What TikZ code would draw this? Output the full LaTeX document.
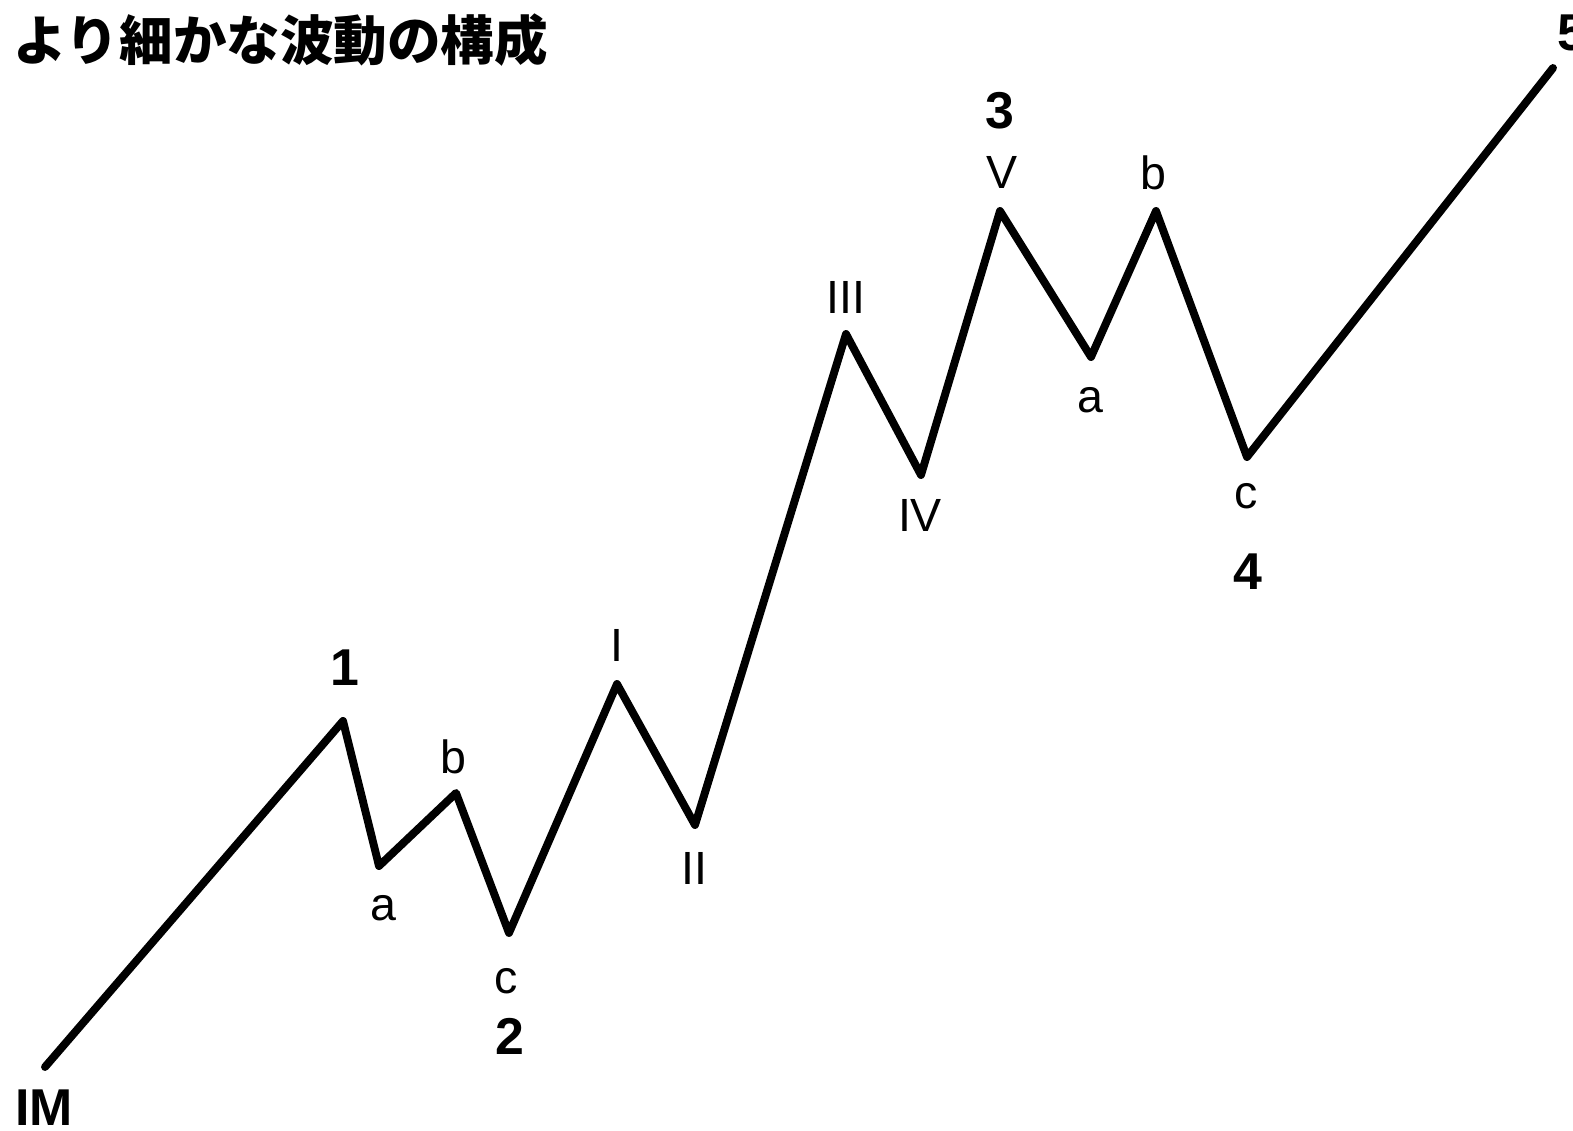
\documentclass[tikz,border=0pt]{standalone}
\usepackage{fontspec}
\setmainfont{Liberation Sans}
\newfontfamily\jpfont{Noto Sans CJK JP}
\tikzstyle{wv}=[line width=4.5pt,line cap=round,line join=round]
\tikzstyle{lb}=[inner sep=0pt,font=\fontsize{26.5}{30}\selectfont]
\tikzstyle{nm}=[inner sep=0pt,font=\fontsize{29.5}{34}\selectfont\bfseries]

\begin{document}
\begin{tikzpicture}[x=0.02cm,y=-0.02cm]
\useasboundingbox (0,0) rectangle (1573,1131);
\node[anchor=west,inner sep=0pt,font=\jpfont\bfseries\fontsize{30.5}{36}\selectfont] (title) at (13,40) {より細かな波動の構成};
\coordinate (w0) at (45,1067); \coordinate (w1) at (343,721); \coordinate (w1a) at (379,866); \coordinate (w1b) at (456,793);
\coordinate (w2) at (509,933); \coordinate (wI) at (617,684); \coordinate (wII) at (695,825); \coordinate (wIII) at (846,334);
\coordinate (wIV) at (921,475); \coordinate (w3) at (1000,211); \coordinate (w3a) at (1091,357); \coordinate (w3b) at (1156,211);
\coordinate (w4) at (1247,457); \coordinate (w5) at (1553,68);
\draw[wv] (w0) -- (w1) -- (w1a) -- (w1b) -- (w2) -- (wI) -- (wII) -- (wIII) -- (wIV) -- (w3) -- (w3a) -- (w3b) -- (w4) -- (w5);
\node[nm] (lIM) at (44,1108) {IM};
\node[nm] (l1) at (345,668) {1};
\node[nm] (l2) at (510,1036) {2};
\node[nm] (l3) at (1000,111) {3};
\node[nm] (l4) at (1248,572) {4};
\node[nm] (l5) at (1572,33) {5};
\node[lb] (la1) at (383,908) {a};
\node[lb] (lb1) at (453,757) {b};
\node[lb] (lc1) at (506,981) {c};
\node[lb] (lI) at (617,645) {I};
\node[lb] (lII) at (694,868) {II};
\node[lb] (lIII) at (846,297) {III};
\node[lb] (lIV) at (920,515) {IV};
\node[lb] (lV) at (1002,172) {V};
\node[lb] (la2) at (1090,400) {a};
\node[lb] (lb2) at (1153,173) {b};
\node[lb] (lc2) at (1246,496) {c};
\end{tikzpicture}
\end{document}
